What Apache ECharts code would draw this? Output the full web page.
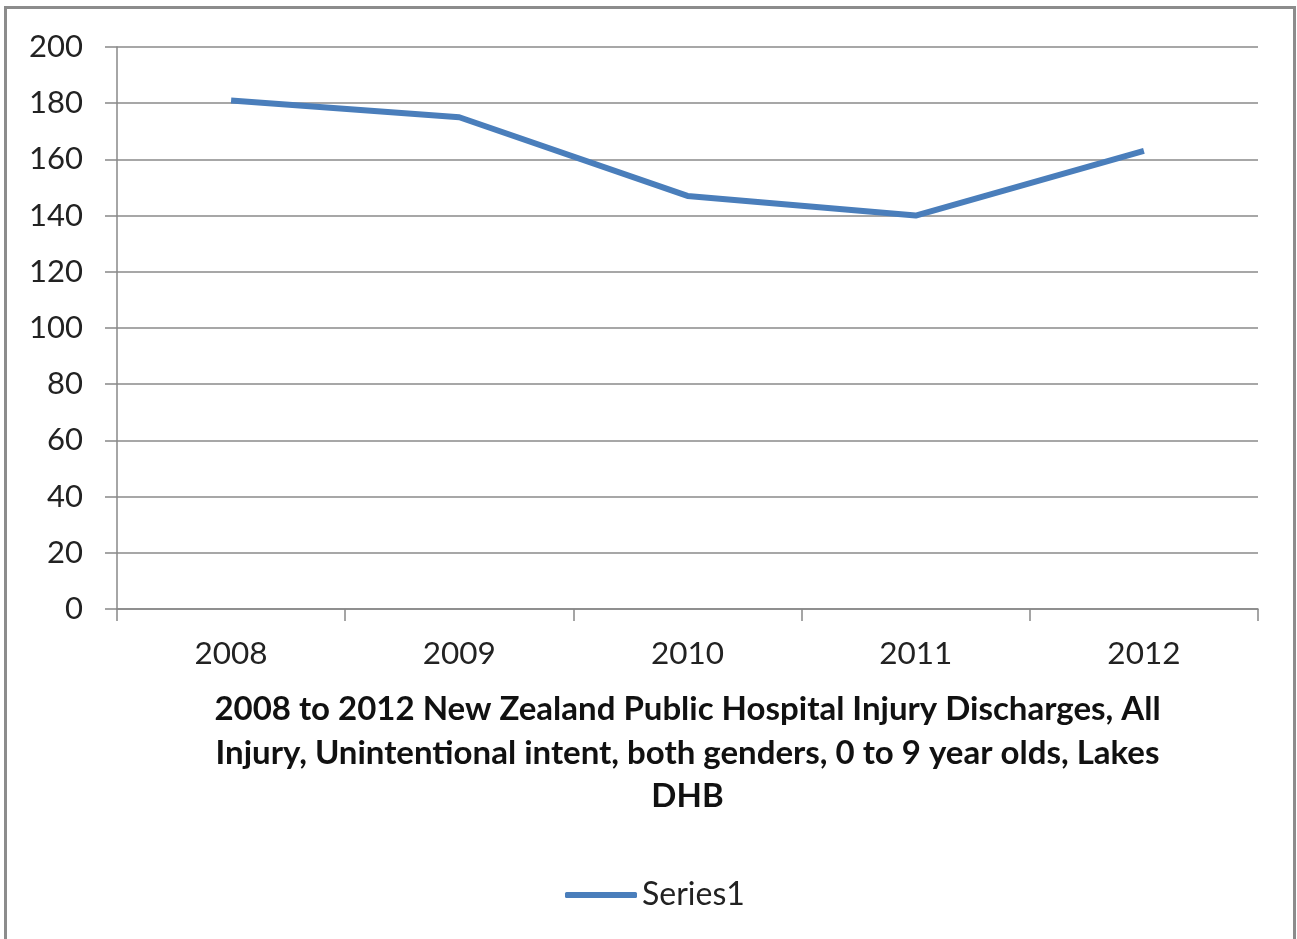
<!DOCTYPE html>
<html>
<head>
<meta charset="utf-8">
<script src="https://cdn.jsdelivr.net/npm/echarts@6/dist/echarts.min.js"></script>
<style>
html,body{margin:0;padding:0;background:#fff;}
#chart{width:1297px;height:939px;}
</style>
</head>
<body>
<div id="chart"></div>
<script>
const categories = ['2008', '2009', '2010', '2011', '2012'];
const seriesName = 'Series1';
const values = [181, 175, 147, 140, 163];
const yTicks = { min: 0, max: 200, interval: 20 };
const xTitle = '2008 to 2012 New Zealand Public Hospital Injury Discharges, All\nInjury, Unintentional intent, both genders, 0 to 9 year olds, Lakes\nDHB';

const FONT = 'Lato';
const chart = echarts.init(document.getElementById('chart'));
chart.setOption({
  animation: false,
  backgroundColor: '#fff',
  graphic: [{
    type: 'rect',
    shape: { x: 5.5, y: 7.5, width: 1289, height: 1000 },
    style: { fill: 'none', stroke: '#8c8c8c', lineWidth: 3 },
    silent: true
  }],
  grid: { left: 117, right: 39, top: 47, bottom: 330, containLabel: false },
  legend: {
    data: [seriesName],
    left: 560, top: 874,
    icon: 'roundRect',
    itemWidth: 72, itemHeight: 6,
    itemGap: 5,
    textStyle: { fontFamily: FONT, fontSize: 32, color: '#222', padding: [0, 0, 0, 0] }
  },
  xAxis: {
    type: 'category',
    data: categories,
    boundaryGap: true,
    axisLine: { lineStyle: { color: '#888', width: 1.5 } },
    axisTick: { show: true, length: 12, lineStyle: { color: '#888', width: 1.5 } },
    axisLabel: { fontFamily: FONT, fontSize: 31.5, color: '#222', margin: 29 },
    name: xTitle,
    nameLocation: 'middle',
    nameGap: 79,
    nameTextStyle: { fontFamily: FONT, fontSize: 33, fontWeight: 'bold', color: '#111', lineHeight: 43.5, align: 'center' }
  },
  yAxis: {
    type: 'value',
    min: yTicks.min, max: yTicks.max, interval: yTicks.interval,
    axisLine: { show: true, lineStyle: { color: '#888', width: 1.5 } },
    axisTick: { show: true, length: 12, lineStyle: { color: '#888', width: 1.5 } },
    splitLine: { show: true, lineStyle: { color: '#8a8a8a', width: 1.5 } },
    axisLabel: { fontFamily: FONT, fontSize: 31, color: '#222', margin: 34 }
  },
  series: [{
    name: seriesName,
    type: 'line',
    data: values,
    symbol: 'none',
    lineStyle: { color: '#4a7ebb', width: 6 },
    itemStyle: { color: '#4a7ebb' }
  }]
});
</script>
</body>
</html>
